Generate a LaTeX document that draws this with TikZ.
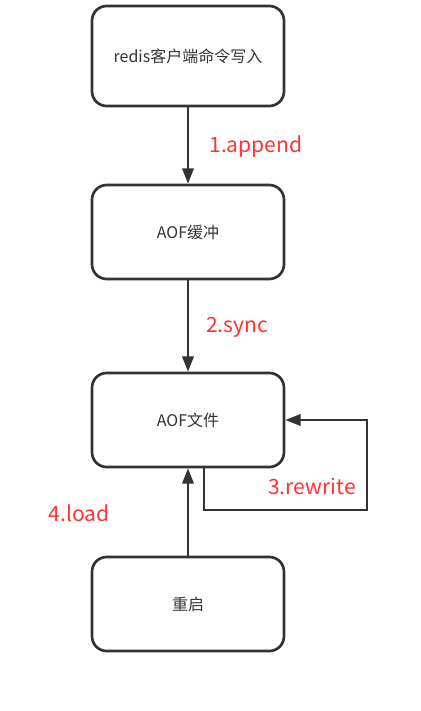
\documentclass[tikz,border=0pt]{standalone}
\usepackage{fontspec}
\setmainfont{Noto Sans CJK SC}
\usetikzlibrary{arrows.meta}
\definecolor{labelred}{HTML}{FF3333}
\definecolor{boxgray}{HTML}{333333}

\begin{document}
\begin{tikzpicture}[x=0.75pt,y=-0.75pt,
  stage/.style={draw=boxgray,line width=2pt,rounded corners=11pt,
    minimum width=144pt,minimum height=70.5pt,text=boxgray,
    font=\fontsize{12}{14}\selectfont},
  flow/.style={-{Triangle[length=11.5pt,width=8.5pt]},draw=boxgray,line width=2pt},
  steplabel/.style={text=labelred,font=\fontsize{15.8}{18}\selectfont}]
\useasboundingbox (0,0) rectangle (421,711);
% the boxes
  \node[stage,minimum height=75pt] (client) at (188,56) {redis客户端命令写入};
  \node[stage] (buffer) at (188,232) {AOF缓冲};
  \node[stage] (file) at (188,420) {AOF文件};
  \node[stage] (restart) at (188,604) {重启};
% the arrows
  \draw[flow] (client) -- (buffer);
  \draw[flow] (buffer) -- (file);
  \draw[flow] (restart) -- (file);
  \coordinate (loop) at (367,510);
  \draw[flow] ([xshift=12pt]file.south) |- (loop) |- (file.east);
% labels
  \node[steplabel] (append) at (256,147) {1.append};
  \node[steplabel] (sync) at (237,327) {2.sync};
  \node[steplabel] (rewrite) at (312,486) {3.rewrite};
  \node[steplabel] (load) at (79,513) {4.load};
\end{tikzpicture}
\end{document}
